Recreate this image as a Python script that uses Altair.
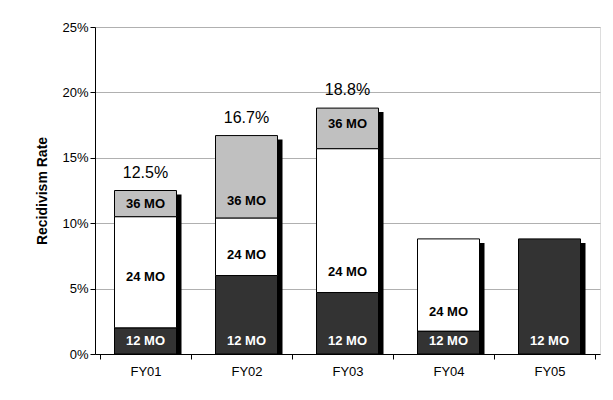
import altair as alt
import pandas as pd

years = ['FY01', 'FY02', 'FY03', 'FY04', 'FY05']
m12 = [2.0, 6.0, 4.7, 1.75, 8.8]
m24 = [8.5, 4.4, 11.0, 7.05, 0.0]
m36 = [2.0, 6.3, 3.1, 0.0, 0.0]
totals = [12.5, 16.7, 18.8, 8.8, 8.8]
total_labels = ['12.5%', '16.7%', '18.8%', '', '']
# label positions (percent)
lab12 = [1.0, 1.0, 1.0, 1.0, 1.0]
lab24 = [5.9, 7.6, 6.3, 3.2, None]
lab36 = [11.5, 11.7, 17.6, None, None]

rows = []
for i, y in enumerate(years):
    start = 0.0
    for name, vals, labs in [('12 MO', m12, lab12), ('24 MO', m24, lab24), ('36 MO', m36, lab36)]:
        v = vals[i]
        if v > 0:
            rows.append({'year': y, 'seg': name, 'y0': start / 100, 'y1': (start + v) / 100,
                         'ly': labs[i] / 100})
        start += v
seg = pd.DataFrame(rows)
tot = pd.DataFrame({'year': years, 'total': [t / 100 for t in totals], 'label': total_labels})

FONT = 'Liberation Sans'
x_ax = alt.Axis(labelAngle=0, labelFontSize=13, labelColor='black', tickBand='extent',
                domainColor='black', tickColor='black', labelPadding=6, grid=False)
y_ax = alt.Axis(format='.0%', values=[0, 0.05, 0.1, 0.15, 0.2, 0.25], labelFontSize=13,
                labelColor='black', titleFontSize=14, titleFontWeight='bold',
                titleColor='black', domainColor='black', tickColor='black',
                grid=True, gridColor='#b0b0b0', gridWidth=1, gridOpacity=1, titlePadding=12)
yscale = alt.Scale(domain=[0, 0.25])


def X():
    return alt.X('year:N', title=None, sort=years, axis=x_ax)


def Y(field):
    return alt.Y(field, scale=yscale, title='Recidivism Rate', axis=y_ax)


shadow = alt.Chart(tot).mark_bar(color='black', size=62, xOffset=5, yOffset=4, clip=True).encode(
    x=X(), y=Y('total:Q'))

bars = alt.Chart(seg).mark_bar(size=62, stroke='black', strokeWidth=1).encode(
    x=X(), y=Y('y1:Q'), y2='y0:Q',
    color=alt.Color('seg:N', legend=None,
                    scale=alt.Scale(domain=['12 MO', '24 MO', '36 MO'],
                                    range=['#333333', '#ffffff', '#c0c0c0'])))

seg_text = alt.Chart(seg).mark_text(fontSize=13, fontWeight='bold', font=FONT).encode(
    x=X(), y=Y('ly:Q'), text='seg:N',
    color=alt.Color('seg:N', legend=None,
                    scale=alt.Scale(domain=['12 MO', '24 MO', '36 MO'],
                                    range=['#ffffff', '#000000', '#000000'])))

tot_text = alt.Chart(tot).mark_text(fontSize=16, font=FONT, dy=-18).encode(
    x=X(), y=Y('total:Q'), text='label:N')

chart = alt.layer(shadow, bars, seg_text, tot_text).resolve_scale(
    color='independent'
).properties(
    width=505, height=327, autosize='none',
    padding={'left': 87, 'top': 19, 'right': 5, 'bottom': 40}
).configure_view(stroke='#606060', strokeWidth=1).configure(font=FONT)

chart.save("out.html", embed_options={"renderer": "svg", "actions": False})
